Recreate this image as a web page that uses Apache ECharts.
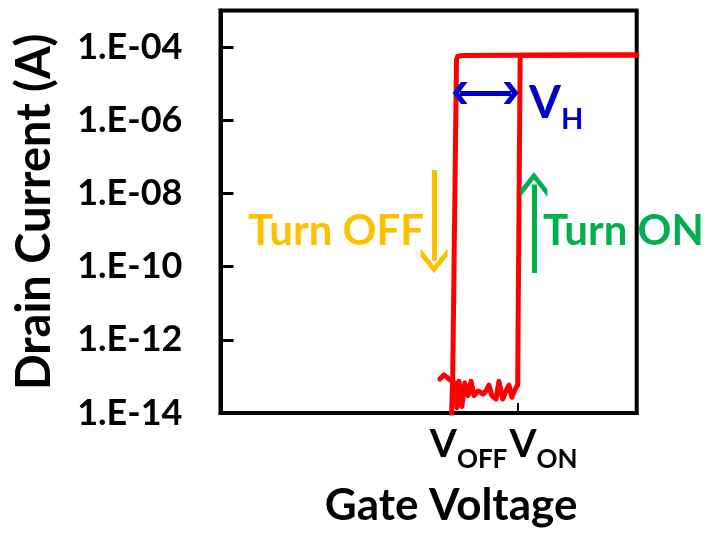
<!DOCTYPE html>
<html><head><meta charset="utf-8">
<script src="https://cdn.jsdelivr.net/npm/echarts@6/dist/echarts.min.js"></script>
<style>html,body{margin:0;padding:0;background:#fff}#c{width:707px;height:534px}</style>
</head><body><div id="c"></div>
<script>
const FONT = 'Lato';

// Turn-on sweep (gate voltage in arbitrary units, drain current in A)
const onSweepV = [5.27, 5.37, 5.49, 5.56, 5.63, 5.68, 5.73, 5.80, 5.87, 5.95, 6.02, 6.09, 6.19, 6.31, 6.38, 6.45, 6.52, 6.62, 6.69, 6.78, 6.86, 6.93, 7.00, 7.08, 7.14, 7.20, 8.60, 10.0];
const onSweepI = [8.5e-14, 1.1e-13, 8.5e-14, 7.4e-14, 6.6e-14, 1.4e-14, 7.4e-14, 1.5e-14, 6.6e-14, 3.0e-14, 7.4e-14, 3.0e-14, 4.0e-14, 3.3e-14, 4.0e-14, 5.8e-14, 3.0e-14, 2.4e-14, 7.4e-14, 2.4e-14, 4.0e-14, 5.8e-14, 2.7e-14, 4.5e-14, 5.8e-14, 6.0e-5, 6.05e-5, 6.1e-5];

// Turn-off sweep
const offSweepV = [10.0, 7.20, 5.82, 5.70, 5.67, 5.58, 5.55];
const offSweepI = [6.1e-5, 6.0e-5, 5.9e-5, 5.6e-5, 4.5e-5, 1.0e-13, 8.0e-15];

// Axis ticks (V_OFF, V_ON) and where their labels sit
const xTickValues = [5.555, 7.131];
const xLabelValues = [5.96, 7.76];
const xTickLabels = ['{v|V}{s|OFF}', '{v|V}{s|ON}'];
const yTickValues = [1e-14, 1e-12, 1e-10, 1e-8, 1e-6, 1e-4];
const yTickLabels = ['1.E-14', '1.E-12', '1.E-10', '1.E-08', '1.E-06', '1.E-04'];

// Annotation arrows [x1, I1, x2, I2]
const vhArrow = [5.755, 5.56e-6, 6.98, 5.56e-6];
const offArrow = [5.13, 4.38e-8, 5.13, 1.44e-10];
const onArrow = [7.53, 6.7e-11, 7.53, 1.76e-8];

const chevronWide = 'path://M10,0 L20,9 L20,16 L10,7 L0,16 L0,9 Z';
const chevron = 'path://M10,0 L20,11 L20,16 L10,5 L0,16 L0,11 Z';

function toPairs(xs, ys) { return xs.map((x, i) => [x, ys[i]]); }

function arrowLine(a, color, width, startSym, endSym, size) {
  return {
    type: 'line', data: [], silent: true, animation: false,
    markLine: {
      silent: true, animation: false,
      symbol: [startSym, endSym], symbolSize: size,
      label: { show: false },
      lineStyle: { color: color, width: width, type: 'solid' },
      emphasis: { disabled: true },
      data: [[{ coord: [a[0], a[1]] }, { coord: [a[2], a[3]] }]]
    }
  };
}

const xRich = {
  v: { fontFamily: FONT, fontWeight: 'bold', fontSize: 39, color: '#000', lineHeight: 44, verticalAlign: 'top' },
  s: { fontFamily: FONT, fontWeight: 'bold', fontSize: 26, color: '#000', lineHeight: 32, verticalAlign: 'top', padding: [22, 0, 0, 0] }
};

function xLabelAxis(i, extra) {
  return Object.assign({
    type: 'value', min: 0, max: 10, position: 'bottom', offset: 0,
    axisLine: { show: false }, axisTick: { show: false }, splitLine: { show: false },
    axisLabel: {
      show: true, margin: 12, customValues: [xLabelValues[i]], showMinLabel: true, showMaxLabel: true,
      formatter: function () { return xTickLabels[i]; },
      rich: xRich
    }
  }, extra || {});
}

const chart = echarts.init(document.getElementById('c'), null, { renderer: 'canvas' });
chart.setOption({
  animation: false,
  backgroundColor: '#ffffff',
  grid: { left: 220.5, top: 10.5, right: 70.3, bottom: 121, show: true, borderColor: '#000', borderWidth: 4, backgroundColor: 'transparent' },
  xAxis: [
    xLabelAxis(0, {
      name: 'Gate Voltage', nameLocation: 'middle', nameGap: 71,
      nameTextStyle: { fontFamily: FONT, fontWeight: 'bold', fontSize: 44, color: '#000', padding: [0, 0, 0, 45] },
      axisLine: { show: true, lineStyle: { color: '#000', width: 4 } },
      axisTick: { show: true, inside: true, length: 10, lineStyle: { color: '#000', width: 2 }, customValues: xTickValues }
    }),
    xLabelAxis(1)
  ],
  yAxis: {
    type: 'log', logBase: 10, min: 1e-14, max: 1e-3,
    name: 'Drain Current (A)', nameLocation: 'middle', nameGap: 162, nameRotate: 90,
    nameTextStyle: { fontFamily: FONT, fontWeight: 'bold', fontSize: 47, color: '#000' },
    axisLine: { show: true, lineStyle: { color: '#000', width: 4 } },
    axisTick: { show: true, inside: true, length: 13, lineStyle: { color: '#000', width: 3 }, customValues: yTickValues },
    axisLabel: {
      show: true, margin: 38, customValues: yTickValues, showMinLabel: true, showMaxLabel: true,
      fontFamily: FONT, fontWeight: 'bold', fontSize: 36, color: '#000',
      formatter: function (v) {
        const e = Math.round(Math.log10(v));
        const i = yTickValues.findIndex(t => Math.round(Math.log10(t)) === e);
        return i >= 0 ? yTickLabels[i] : '';
      }
    },
    splitLine: { show: false },
    minorTick: { show: false }
  },
  graphic: [
    { type: 'text', x: 248, y: 231, z: 1, style: { text: 'Turn OFF', fontFamily: FONT, fontWeight: 'bold', fontSize: 42, fill: '#FFC000', align: 'left', verticalAlign: 'middle' } },
    { type: 'text', x: 543, y: 231, z: 1, style: { text: 'Turn ON', fontFamily: FONT, fontWeight: 'bold', fontSize: 42, fill: '#00B050', align: 'left', verticalAlign: 'middle' } },
    { type: 'text', x: 529, y: 80, z: 1, style: { text: '{v|V}{h|H}', align: 'left', verticalAlign: 'top',
        rich: {
          v: { fontFamily: FONT, fontWeight: 'bold', fontSize: 46, fill: '#0000CC', lineHeight: 50, verticalAlign: 'top' },
          h: { fontFamily: FONT, fontWeight: 'bold', fontSize: 29, fill: '#0000CC', lineHeight: 34, verticalAlign: 'top', padding: [25, 0, 0, 0] }
        } } }
  ],
  series: [
    { name: 'Turn ON', type: 'line', xAxisIndex: 0, data: toPairs(onSweepV, onSweepI), symbol: 'none', clip: true,
      lineStyle: { color: '#FF0000', width: 5, join: 'round', cap: 'round' }, z: 3 },
    { name: 'Turn OFF', type: 'line', xAxisIndex: 0, data: toPairs(offSweepV, offSweepI), symbol: 'none', clip: true,
      lineStyle: { color: '#FF0000', width: 5, join: 'round', cap: 'round' }, z: 3 },
    arrowLine(vhArrow, '#0000CC', 5, chevronWide, chevronWide, [22, 15]),
    arrowLine(offArrow, '#FFC000', 5, 'none', chevron, [27, 25]),
    arrowLine(onArrow, '#00B050', 5, 'none', chevron, [27, 25])
  ]
});
</script>
</body></html>
